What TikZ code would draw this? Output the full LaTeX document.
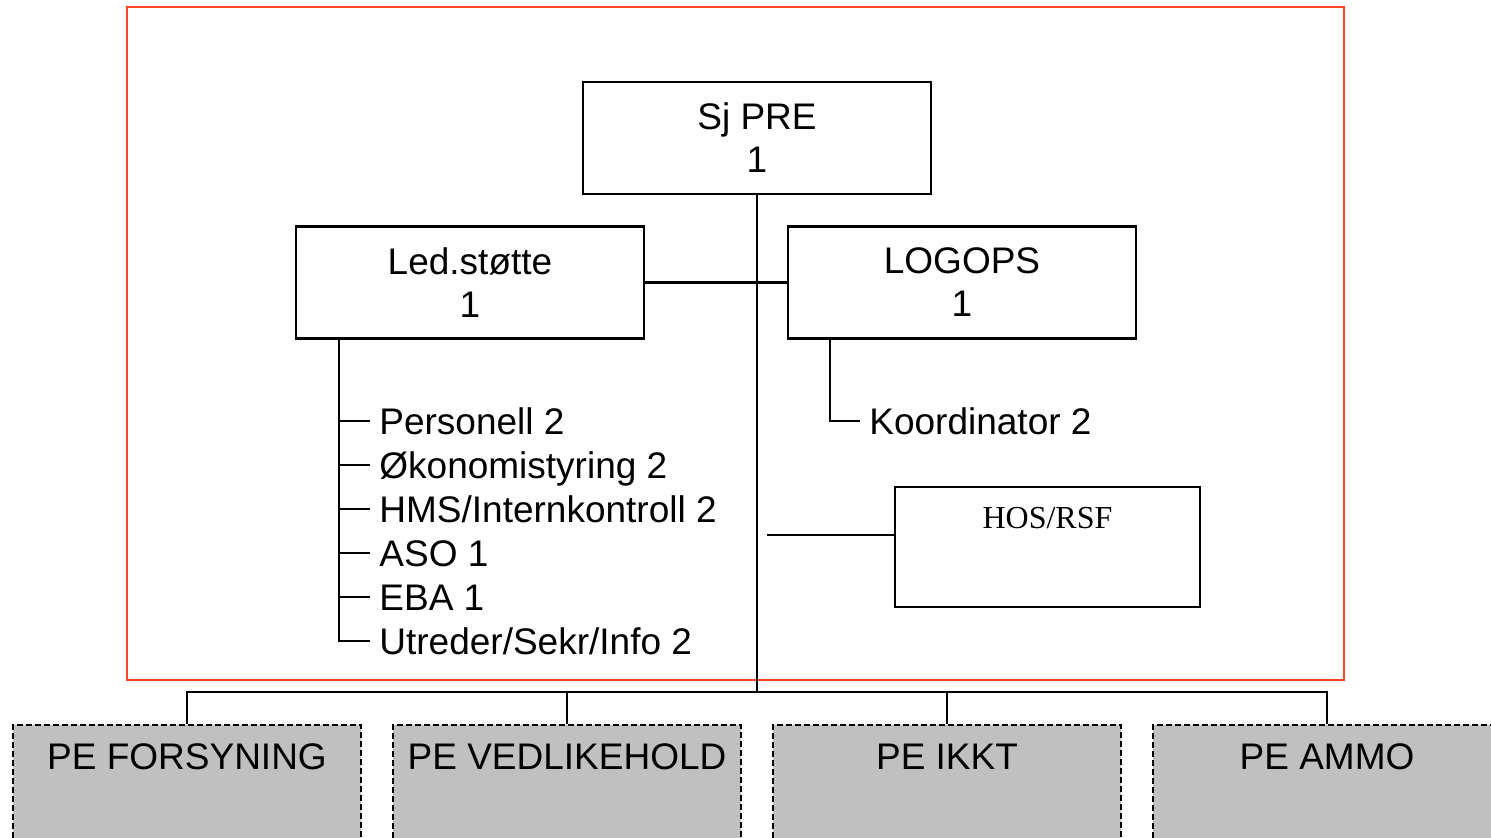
\documentclass[tikz,border=0pt]{standalone}
\usepackage{fontspec}
\setmainfont{Liberation Sans}
\newfontfamily\tms{Liberation Serif}
\definecolor{frame}{RGB}{250,70,35}
\definecolor{pegray}{RGB}{192,192,192}
\begin{document}
\begin{tikzpicture}[x=0.5pt,y=-0.5pt,
  every node/.style={font=\fontsize{18.5}{21.5}\selectfont},
  link/.style={line width=1.1pt},
  unitbox/.style={draw,line width=1.1pt,minimum width=174pt,minimum height=56pt,align=center,inner sep=0pt},
  hosbox/.style={draw,line width=0.9pt,minimum width=152.5pt,minimum height=60pt,inner sep=0pt},
  pebox/.style={draw,fill=pegray,line width=0.9pt,dash pattern=on 3pt off 1.5pt,minimum width=174pt,minimum height=80pt,inner sep=0pt},
  item/.style={anchor=west,inner sep=0pt,text height=13.3pt,text depth=0pt}]
\clip (0,0) rectangle (1491,837);
\draw[frame,line width=0.8pt] (127,7) rectangle (1344,680);
% boxes
\node[unitbox] (sj) at (757,138) {Sj PRE\\1};
\node[unitbox] (led) at (470,282.5) {Led.støtte\\1};
\node[unitbox] (logo) at (962,282.5) {LOGOPS\\1};
\node[hosbox,label={[anchor=center,yshift=-16pt,font=\tms\fontsize{16}{19}\selectfont]north:HOS/RSF}] (hos) at (1047.5,547) {};
\node[pebox,label={[anchor=center,yshift=-16.5pt]north:PE FORSYNING}] (pe1) at (187,805) {};
\node[pebox,label={[anchor=center,yshift=-16.5pt]north:PE VEDLIKEHOLD}] (pe2) at (567,805) {};
\node[pebox,label={[anchor=center,yshift=-16.5pt]north:PE IKKT}] (pe3) at (947,805) {};
\node[pebox,label={[anchor=center,yshift=-16.5pt]north:PE AMMO}] (pe4) at (1327,805) {};
% items
\node[item] (i1) at (379,421) {Personell 2};
\node[item] (i2) at (379,465) {Økonomistyring 2};
\node[item] (i3) at (379,509) {HMS/Internkontroll 2};
\node[item] (i4) at (379,553) {ASO 1};
\node[item] (i5) at (379,597) {EBA 1};
\node[item] (i6) at (379,641) {Utreder/Sekr/Info 2};
\node[item] (ko) at (869,421) {Koordinator 2};
% coordinates
\coordinate (bus) at (757,692);
\coordinate (lt) at (339,339);
\coordinate (lg) at (830,339);
\coordinate (hl) at (767,535);
% connectors
\draw[link] (sj.south) -- (bus);
\draw[link] (led.east) -- (logo.west);
\draw[link] (lt) |- ([xshift=-4.5pt]i6.west);
\foreach \k in {1,...,5} \draw[link] (lt |- i\k.west) -- ([xshift=-4.5pt]i\k.west);
\draw[link] (lg) |- ([xshift=-4.5pt]ko.west);
\draw[line width=0.9pt] (hl) -- (hl -| hos.west);
\draw[link] (pe1.north) -- (pe1.north |- bus) -- (pe4.north |- bus) -- (pe4.north);
\draw[link] (pe2.north) -- (pe2.north |- bus);
\draw[link] (pe3.north) -- (pe3.north |- bus);
\end{tikzpicture}
\end{document}
